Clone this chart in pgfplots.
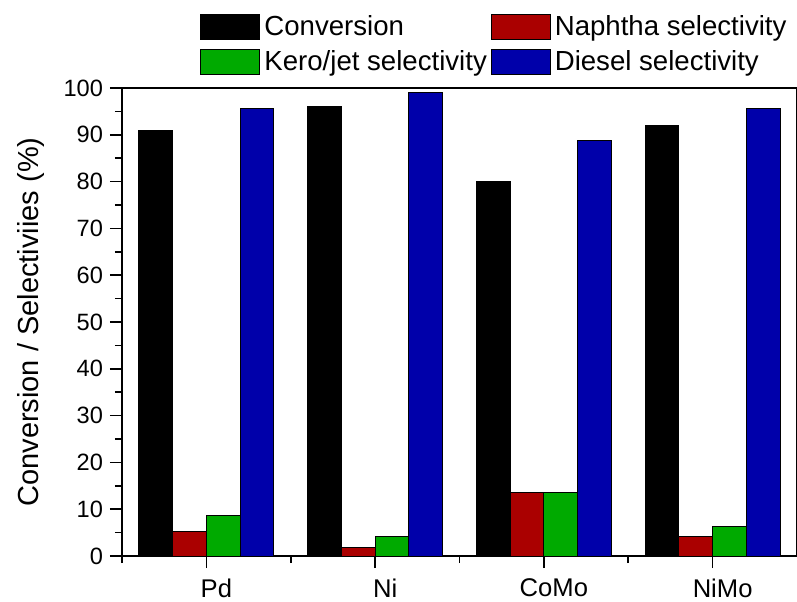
\documentclass[border=0pt]{standalone}
\usepackage{pgfplots}
\pgfplotsset{compat=1.18}
\usepackage{pgfplotstable}
\usepackage{fontspec}
\setmainfont{Liberation Sans}
\definecolor{cconv}{RGB}{0,0,0}
\definecolor{cnaph}{RGB}{170,0,0}
\definecolor{ckero}{RGB}{0,170,0}
\definecolor{cdies}{RGB}{0,0,170}
\pgfplotstableread{
x conv naph kero dies
0 91.0 5.2 8.6 95.7
1 96.1 1.9 4.1 99.0
2 80.0 13.6 13.6 88.7
3 91.9 4.1 6.3 95.6
}\data
\begin{document}
\begin{tikzpicture}
\useasboundingbox (-61pt,-22.5pt) rectangle (337.5pt,278pt);
\begin{axis}[
  at={(0,0)}, anchor=south west,
  scale only axis, width=337.5pt, height=234pt,
  xmin=-0.5, xmax=3.5, ymin=0, ymax=100,
  ybar, bar width=0.2, bar shift=0pt,
  axis line style={line width=1pt},
  xtick={0,1,2,3}, xticklabels={Pd,Ni,CoMo,NiMo},
  minor xtick={-0.5,0.5,1.5,2.5},
  ytick={0,10,...,100}, minor ytick={5,15,...,95},
  xtick pos=bottom, ytick pos=left,
  tick align=outside,
  major tick length=6pt, minor tick length=3.5pt,
  every tick/.style={black, line width=0.8pt},
  /pgf/number format/assume math mode=true,
  yticklabel style={font=\fontsize{11.8}{12}\selectfont},
  xticklabel style={font=\fontsize{12.8}{13}\selectfont, xshift=5pt, yshift=-2pt},
  ylabel={Conversion / Selectiviies (\%)},
  every axis y label/.style={at={(axis description cs:-0.135,0.5)}, rotate=90, anchor=center,
    font=\fontsize{14.5}{15}\selectfont},
  legend columns=2,
  legend style={draw=none, fill=none, at={(axis description cs:0.1156,1.165)}, anchor=north west,
    inner sep=0pt, font=\fontsize{13.8}{14}\selectfont,
    /tikz/every even column/.append style={column sep=0pt},
    row sep=2pt},
  legend cell align=left,
  legend image code/.code={\draw[#1, draw=black, line width=0.5pt] (0pt,-6.25pt) rectangle (29.5pt,6.25pt);},
]
\addplot[fill=cconv, draw=black, line width=0.5pt] table[x expr=\thisrow{x}-0.3, y=conv]{\data};
\addlegendentry{Conversion}
\addplot[fill=cnaph, draw=black, line width=0.5pt] table[x expr=\thisrow{x}-0.1, y=naph]{\data};
\addlegendentry{Naphtha selectivity}
\addplot[fill=ckero, draw=black, line width=0.5pt] table[x expr=\thisrow{x}+0.1, y=kero]{\data};
\addlegendentry{Kero/jet selectivity}
\addplot[fill=cdies, draw=black, line width=0.5pt] table[x expr=\thisrow{x}+0.3, y=dies]{\data};
\addlegendentry{Diesel selectivity}
\end{axis}
\end{tikzpicture}
\end{document}
